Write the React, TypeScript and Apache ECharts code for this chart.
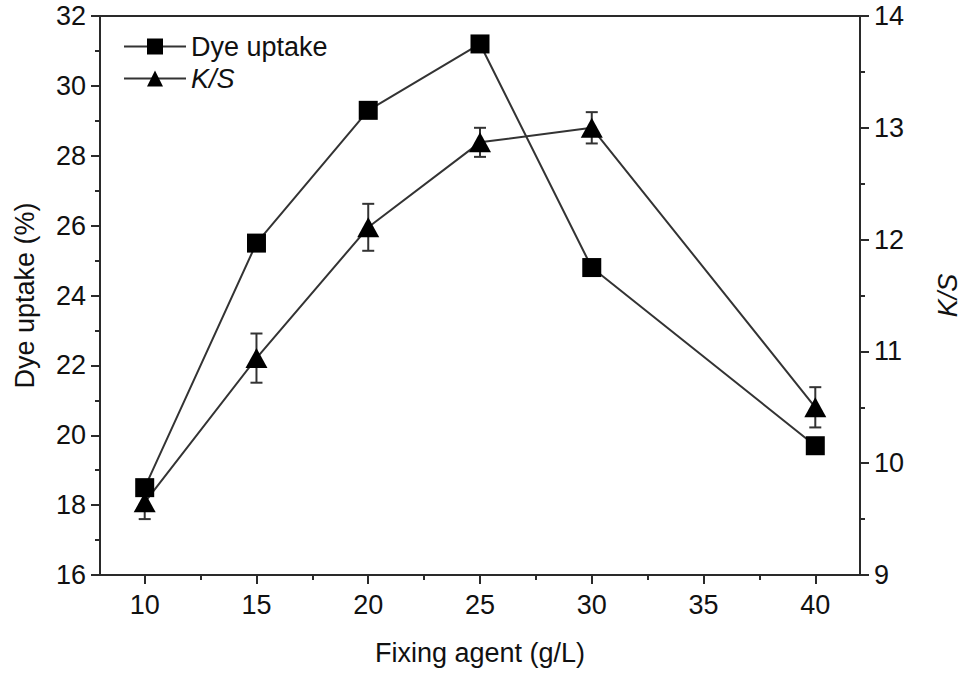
import React, { useEffect, useRef } from "react";
import * as echarts from "echarts";

const xValues = [10, 15, 20, 25, 30, 40];
const dyeUptake = [18.5, 25.5, 29.3, 31.2, 24.8, 19.7];
const ksValues = [9.65, 10.94, 12.11, 12.87, 13.0, 10.5];
const ksErrors = [0.15, 0.22, 0.21, 0.13, 0.14, 0.18];
const xTickValues = [10, 15, 20, 25, 30, 35, 40];
const xMinorTickValues = [12.5, 17.5, 22.5, 27.5, 32.5, 37.5];

const FONT = "Liberation Sans, Arial, sans-serif";
const AXIS_COLOR = "#2a2a2a";

export default function App() {
  const ref = useRef<HTMLDivElement>(null);
  useEffect(() => {
    if (!ref.current) return;
    const chart = echarts.init(ref.current, undefined, { renderer: "svg" });
    const dyeData = xValues.map((x, i) => [x, dyeUptake[i]]);
    const ksData = xValues.map((x, i) => [x, ksValues[i]]);
    const errData = xValues.map((x, i) => [x, ksValues[i] - ksErrors[i], ksValues[i] + ksErrors[i]]);
    const labelStyle = { fontFamily: FONT, fontSize: 27, color: "#111" };
    chart.setOption({
      animation: false,
      backgroundColor: "#fff",
      grid: {
        left: 100, right: 98, top: 16, bottom: 98,
        show: true, borderColor: AXIS_COLOR, borderWidth: 2,
      },
      legend: {
        orient: "vertical",
        left: 118, top: 28,
        itemWidth: 62, itemHeight: 20, itemGap: 5,
        data: ["Dye uptake", "K/S"],
        textStyle: { fontFamily: FONT, fontSize: 27, color: "#111",
          rich: { i: { fontFamily: FONT, fontSize: 27, fontStyle: "italic", color: "#111" } } },
        formatter: (name: string) => (name === "K/S" ? "{i|K/S}" : name),
      },
      xAxis: [
        {
          type: "value", min: 8, max: 42,
          name: "Fixing agent (g/L)", nameLocation: "middle", nameGap: 64,
          nameTextStyle: { fontFamily: FONT, fontSize: 27, color: "#111" },
          axisLine: { show: true, onZero: false, lineStyle: { color: AXIS_COLOR, width: 2 } },
          axisTick: { show: true, inside: false, length: 9, customValues: xTickValues, lineStyle: { color: AXIS_COLOR, width: 2 } },
          axisLabel: { ...labelStyle, margin: 16, customValues: xTickValues },
          splitLine: { show: false },
        },
        {
          type: "value", min: 8, max: 42, position: "bottom",
          axisLine: { show: false, onZero: false },
          axisTick: { show: true, inside: false, length: 5, customValues: xMinorTickValues, lineStyle: { color: AXIS_COLOR, width: 2 } },
          axisLabel: { show: false },
          splitLine: { show: false },
        },
      ],
      yAxis: [
        {
          type: "value", min: 16, max: 32, interval: 2, position: "left",
          name: "Dye uptake (%)", nameLocation: "middle", nameGap: 62, nameRotate: 90,
          nameTextStyle: { fontFamily: FONT, fontSize: 27, color: "#111" },
          axisLine: { show: true, onZero: false, lineStyle: { color: AXIS_COLOR, width: 2 } },
          axisTick: { show: true, inside: false, length: 9, lineStyle: { color: AXIS_COLOR, width: 2 } },
          minorTick: { show: true, splitNumber: 2, length: 5, lineStyle: { color: AXIS_COLOR, width: 2 } },
          axisLabel: { ...labelStyle, margin: 14 },
          splitLine: { show: false },
        },
        {
          type: "value", min: 9, max: 14, interval: 1, position: "right",
          name: "K/S", nameLocation: "middle", nameGap: 74, nameRotate: 90,
          nameTextStyle: { fontFamily: FONT, fontSize: 27, fontStyle: "italic", color: "#111" },
          axisLine: { show: true, onZero: false, lineStyle: { color: AXIS_COLOR, width: 2 } },
          axisTick: { show: true, inside: false, length: 9, lineStyle: { color: AXIS_COLOR, width: 2 } },
          minorTick: { show: true, splitNumber: 2, length: 5, lineStyle: { color: AXIS_COLOR, width: 2 } },
          axisLabel: { ...labelStyle, margin: 14 },
          splitLine: { show: false },
        },
      ],
      series: [
        {
          name: "Dye uptake", type: "line", xAxisIndex: 0, yAxisIndex: 0,
          data: dyeData, symbol: "rect", symbolSize: 19,
          itemStyle: { color: "#000" },
          lineStyle: { color: "#333", width: 2 }, z: 3,
        },
        {
          name: "K/S", type: "line", xAxisIndex: 0, yAxisIndex: 1,
          data: ksData, symbol: "triangle", symbolSize: [22, 20],
          itemStyle: { color: "#000" },
          lineStyle: { color: "#333", width: 2 }, z: 3,
        },
        {
          name: "K/S error", type: "custom", xAxisIndex: 0, yAxisIndex: 1,
          data: errData, z: 2,
          renderItem: (params: any, api: any) => {
            const x = api.value(0);
            const lo = api.coord([x, api.value(1)]);
            const hi = api.coord([x, api.value(2)]);
            const cap = 6;
            const style = { stroke: "#333", lineWidth: 2 };
            return {
              type: "group",
              children: [
                { type: "line", shape: { x1: lo[0], y1: lo[1], x2: hi[0], y2: hi[1] }, style },
                { type: "line", shape: { x1: lo[0] - cap, y1: lo[1], x2: lo[0] + cap, y2: lo[1] }, style },
                { type: "line", shape: { x1: hi[0] - cap, y1: hi[1], x2: hi[0] + cap, y2: hi[1] }, style },
              ],
            };
          },
        },
      ],
    });
    return () => chart.dispose();
  }, []);
  return <div ref={ref} style={{ position: "fixed", left: 0, top: 0, width: 969, height: 673 }} />;
}
